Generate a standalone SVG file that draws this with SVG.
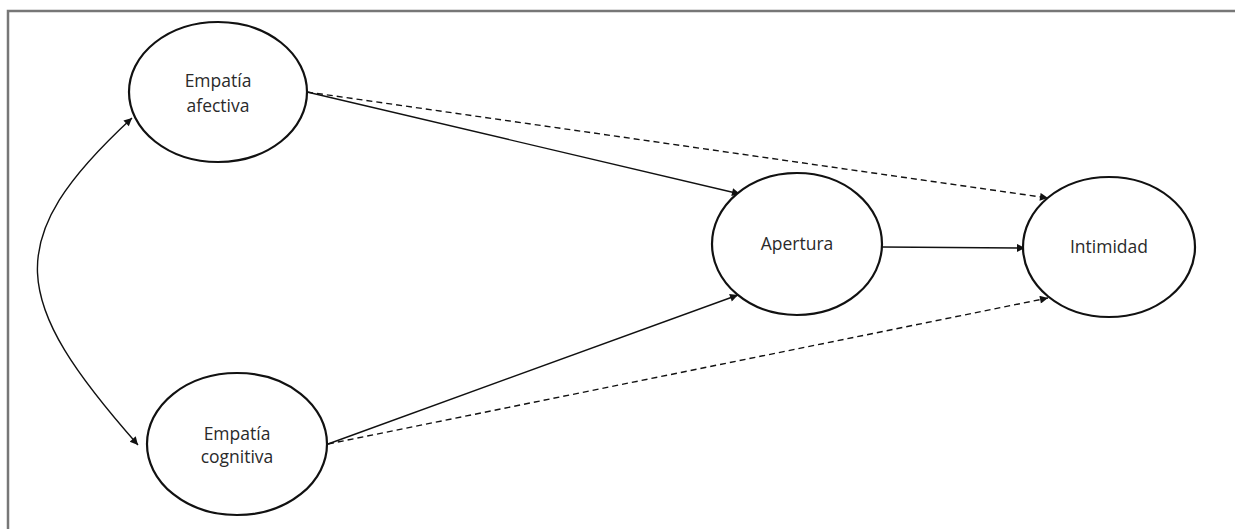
<svg xmlns="http://www.w3.org/2000/svg" width="1235" height="529" viewBox="0 0 1235 529">
<style>
.node ellipse{fill:#fff;stroke:#111;stroke-width:2.2}
.node text{font-family:"Open Sans","Liberation Sans",sans-serif;font-size:17.5px;fill:#2a2a2a;text-anchor:middle}
.edge{fill:none;stroke:#111;stroke-width:1.4}
.dash{stroke-dasharray:6 4}
</style>
<defs>
<marker id="arr" viewBox="0 0 10 10" refX="10" refY="5" markerWidth="11" markerHeight="8" markerUnits="userSpaceOnUse" orient="auto-start-reverse">
<path d="M0,0 L10,5 L0,10 z" fill="#111"/>
</marker>
</defs>
<rect width="1235" height="529" fill="#fff"/>
<rect x="8" y="11" width="1240" height="540" fill="none" stroke="#777" stroke-width="2.5"/>
<g id="connectors">
<path class="edge" d="M132,118 C 0,240 10,300 138,445" marker-start="url(#arr)" marker-end="url(#arr)"/>
<line class="edge" x1="307" y1="92" x2="740" y2="194" marker-end="url(#arr)"/>
<line class="edge dash" x1="307" y1="92" x2="1048" y2="198" marker-end="url(#arr)"/>
<line class="edge" x1="328" y1="444" x2="738" y2="295" marker-end="url(#arr)"/>
<line class="edge dash" x1="328" y1="444" x2="1048" y2="298" marker-end="url(#arr)"/>
<line class="edge" x1="882" y1="247" x2="1025" y2="248" marker-end="url(#arr)"/>
</g>
<g id="empatia-afectiva" class="node">
<ellipse cx="218" cy="92" rx="89" ry="70"/>
<text x="218" y="87">Empatía</text>
<text x="218" y="112">afectiva</text>
</g>
<g id="empatia-cognitiva" class="node">
<ellipse cx="237" cy="444" rx="90" ry="71"/>
<text x="237" y="440">Empatía</text>
<text x="237" y="463">cognitiva</text>
</g>
<g id="apertura" class="node">
<ellipse cx="797" cy="244" rx="85" ry="71"/>
<text x="797" y="250">Apertura</text>
</g>
<g id="intimidad" class="node">
<ellipse cx="1109" cy="247" rx="86" ry="70"/>
<text x="1109" y="253">Intimidad</text>
</g>
</svg>
